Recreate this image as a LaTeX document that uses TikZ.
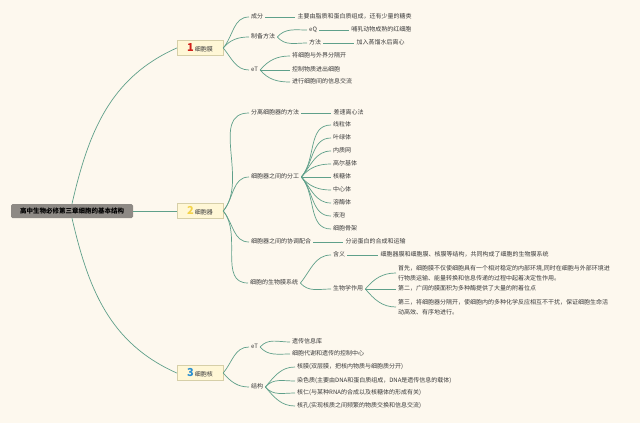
\documentclass[tikz,border=0pt]{standalone}
\usepackage{fontspec}
\setmainfont{Noto Sans CJK SC}
\usetikzlibrary{positioning}
\definecolor{paper}{HTML}{FDF8EE}
\definecolor{ink}{HTML}{3A3A3A}
\definecolor{twig}{HTML}{5FA08A}
\definecolor{secfill}{HTML}{FFF7D6}
\definecolor{secdraw}{HTML}{D6CFA8}
\definecolor{rootfill}{HTML}{8E8A85}
\definecolor{nored}{HTML}{D0201A}
\definecolor{noyellow}{HTML}{F3D24A}
\definecolor{noblue}{HTML}{2A8FD0}
\newcommand{\secno}[2]{\textcolor{#1}{\fontsize{11}{11}\selectfont\bfseries #2}}
\tikzset{x=1pt,y=1pt,node distance=30pt}
\tikzset{txt/.style={font=\fontsize{6}{9.5}\selectfont,text=ink,inner sep=2pt,anchor=west}}
\tikzset{topic/.style={txt,text height=5pt,text depth=1.5pt}}
\tikzset{note/.style={txt,align=left}}
\tikzset{rootbox/.style={fill=rootfill,rounded corners=1.5pt,minimum width=122pt,minimum height=14pt,font=\fontsize{6.5}{8}\selectfont\bfseries,text=black}}
\tikzset{secbox/.style={fill=secfill,draw=secdraw,line width=0.5pt,minimum width=46pt,minimum height=15pt,inner sep=2pt,font=\fontsize{6}{8}\selectfont,text=ink}}
\tikzset{link/.style={draw=twig,line width=0.7pt}}
\tikzset{rise/.style={out=50,in=180},fall/.style={out=-50,in=180}}

\begin{document}
\begin{tikzpicture}
\useasboundingbox (0,0) rectangle (640,-423);
\fill[paper] (0,0) rectangle (640,-423);

\node[rootbox] (root) at (72,-211) {高中生物必修第三章细胞的基本结构};
\node[secbox] (mem) at (200,-48) {\secno{nored}{1}\,细胞膜};
\node[secbox] (org) at (200,-211) {\secno{noyellow}{2}\,细胞器};
\node[secbox] (nuc) at (200,-373) {\secno{noblue}{3}\,细胞核};

% 细胞膜
\node[topic] (mem-cf) at (249,-17) {成分};
\node[topic] (mem-cf1) [right=30pt of mem-cf] {主要由脂质和蛋白质组成，还有少量的糖类};
\node[topic] (mem-zb) at (249,-37) {制备方法};
\node[topic] (mem-eq) at (307,-30) {eQ};
\node[topic] (mem-eq1) [right=30pt of mem-eq] {哺乳动物成熟的红细胞};
\node[topic] (mem-ff) at (307,-43) {方法};
\node[topic] (mem-ff1) [right=31pt of mem-ff] {加入蒸馏水后离心};
\node[topic] (mem-et) at (249,-70) {eT};
\node[topic] (mem-et1) at (290,-56) {将细胞与外界分隔开};
\node[topic] (mem-et2) at (290,-70) {控制物质进出细胞};
\node[topic] (mem-et3) at (290,-82) {进行细胞间的信息交流};

% 细胞器
\node[topic] (org-fl) at (249,-113) {分离细胞器的方法};
\node[topic] (org-fl1) [right=30pt of org-fl] {差速离心法};
\node[topic] (org-fg) at (249,-177) {细胞器之间的分工};
\node[topic] (org-fg1) at (331,-125) {线粒体};
\node[topic] (org-fg2) at (331,-138) {叶绿体};
\node[topic] (org-fg3) at (331,-151) {内质网};
\node[topic] (org-fg4) at (331,-164) {高尔基体};
\node[topic] (org-fg5) at (331,-177) {核糖体};
\node[topic] (org-fg6) at (331,-190) {中心体};
\node[topic] (org-fg7) at (331,-203) {溶酶体};
\node[topic] (org-fg8) at (331,-216) {液泡};
\node[topic] (org-fg9) at (331,-229) {细胞骨架};
\node[topic] (org-xt) at (249,-242) {细胞器之间的协调配合};
\node[topic] (org-xt1) [right=30pt of org-xt] {分泌蛋白的合成和运输};
\node[topic] (org-sm) at (248,-283) {细胞的生物膜系统};
\node[topic] (org-hy) at (331,-255) {含义};
\node[topic] (org-hy1) [right=31pt of org-hy] {细胞器膜和细胞膜、核膜等结构，共同构成了细胞的生物膜系统};
\node[topic] (org-zy) at (331,-289) {生物学作用};
\node[note] (org-zy1) at (396,-273) {首先，细胞膜不仅使细胞具有一个相对稳定的内部环境,同时在细胞与外部环境进\\行物质运输、能量转换和信息传递的过程中起着决定性作用。};
\node[topic] (org-zy2) at (396,-289) {第二，广阔的膜面积为多种酶提供了大量的附着位点};
\node[note] (org-zy3) at (396,-307) {第三，将细胞器分隔开，使细胞内的多种化学反应相互不干扰，保证细胞生命活\\动高效、有序地进行。};

% 细胞核
\node[topic] (nuc-et) at (249,-347) {eT};
\node[topic] (nuc-et1) at (290,-342) {遗传信息库};
\node[topic] (nuc-et2) at (290,-354) {细胞代谢和遗传的控制中心};
\node[topic] (nuc-jg) at (249,-387) {结构};
\node[topic] (nuc-jg1) at (295,-367) {核膜(双层膜，把核内物质与细胞质分开)};
\node[topic] (nuc-jg2) at (295,-381) {染色质(主要由DNA和蛋白质组成，DNA是遗传信息的载体)};
\node[topic] (nuc-jg3) at (295,-393) {核仁(与某种RNA的合成以及核糖体的形成有关)};
\node[topic] (nuc-jg4) at (295,-406) {核孔(实现核质之间频繁的物质交换和信息交流)};

\path[link]
    (root.north) edge[out=77,in=204] (mem.west)
    (root) edge (org)
    (root.south) edge[out=-77,in=156] (nuc.west)
    (mem.east) edge[rise] (mem-cf.west)
    (mem.east) edge[rise] (mem-zb.west)
    (mem.east) edge[fall] (mem-et.west)
    (mem-cf) edge (mem-cf1)
    (mem-zb.east) edge[rise] (mem-eq.west)
    (mem-zb.east) edge[fall] (mem-ff.west)
    (mem-eq) edge (mem-eq1)
    (mem-ff) edge (mem-ff1)
    (mem-et.east) edge[rise] (mem-et1.west)
    (mem-et) edge (mem-et2)
    (mem-et.east) edge[fall] (mem-et3.west)
    ;
\path[link]
    (org.east) edge[rise] (org-fl.west)
    (org.east) edge[rise] (org-fg.west)
    (org.east) edge[fall] (org-xt.west)
    (org.east) edge[fall] (org-sm.west)
    (org-fl) edge (org-fl1)
    (org-fg.east) edge[rise] (org-fg1.west)
    (org-fg.east) edge[rise] (org-fg2.west)
    (org-fg.east) edge[rise] (org-fg3.west)
    (org-fg.east) edge[rise] (org-fg4.west)
    (org-fg) edge (org-fg5)
    (org-fg.east) edge[fall] (org-fg6.west)
    (org-fg.east) edge[fall] (org-fg7.west)
    (org-fg.east) edge[fall] (org-fg8.west)
    (org-fg.east) edge[fall] (org-fg9.west)
    (org-xt) edge (org-xt1)
    (org-sm.east) edge[rise] (org-hy.west)
    (org-sm.east) edge[fall] (org-zy.west)
    (org-hy) edge (org-hy1)
    (org-zy.east) edge[rise] (org-zy1.west)
    (org-zy) edge (org-zy2)
    (org-zy.east) edge[fall] (org-zy3.west)
    ;
\path[link]
    (nuc.east) edge[rise] (nuc-et.west)
    (nuc.east) edge[fall] (nuc-jg.west)
    (nuc-et.east) edge[rise] (nuc-et1.west)
    (nuc-et.east) edge[fall] (nuc-et2.west)
    (nuc-jg.east) edge[rise] (nuc-jg1.west)
    (nuc-jg.east) edge[rise] (nuc-jg2.west)
    (nuc-jg.east) edge[fall] (nuc-jg3.west)
    (nuc-jg.east) edge[fall] (nuc-jg4.west)
    ;
\end{tikzpicture}
\end{document}
